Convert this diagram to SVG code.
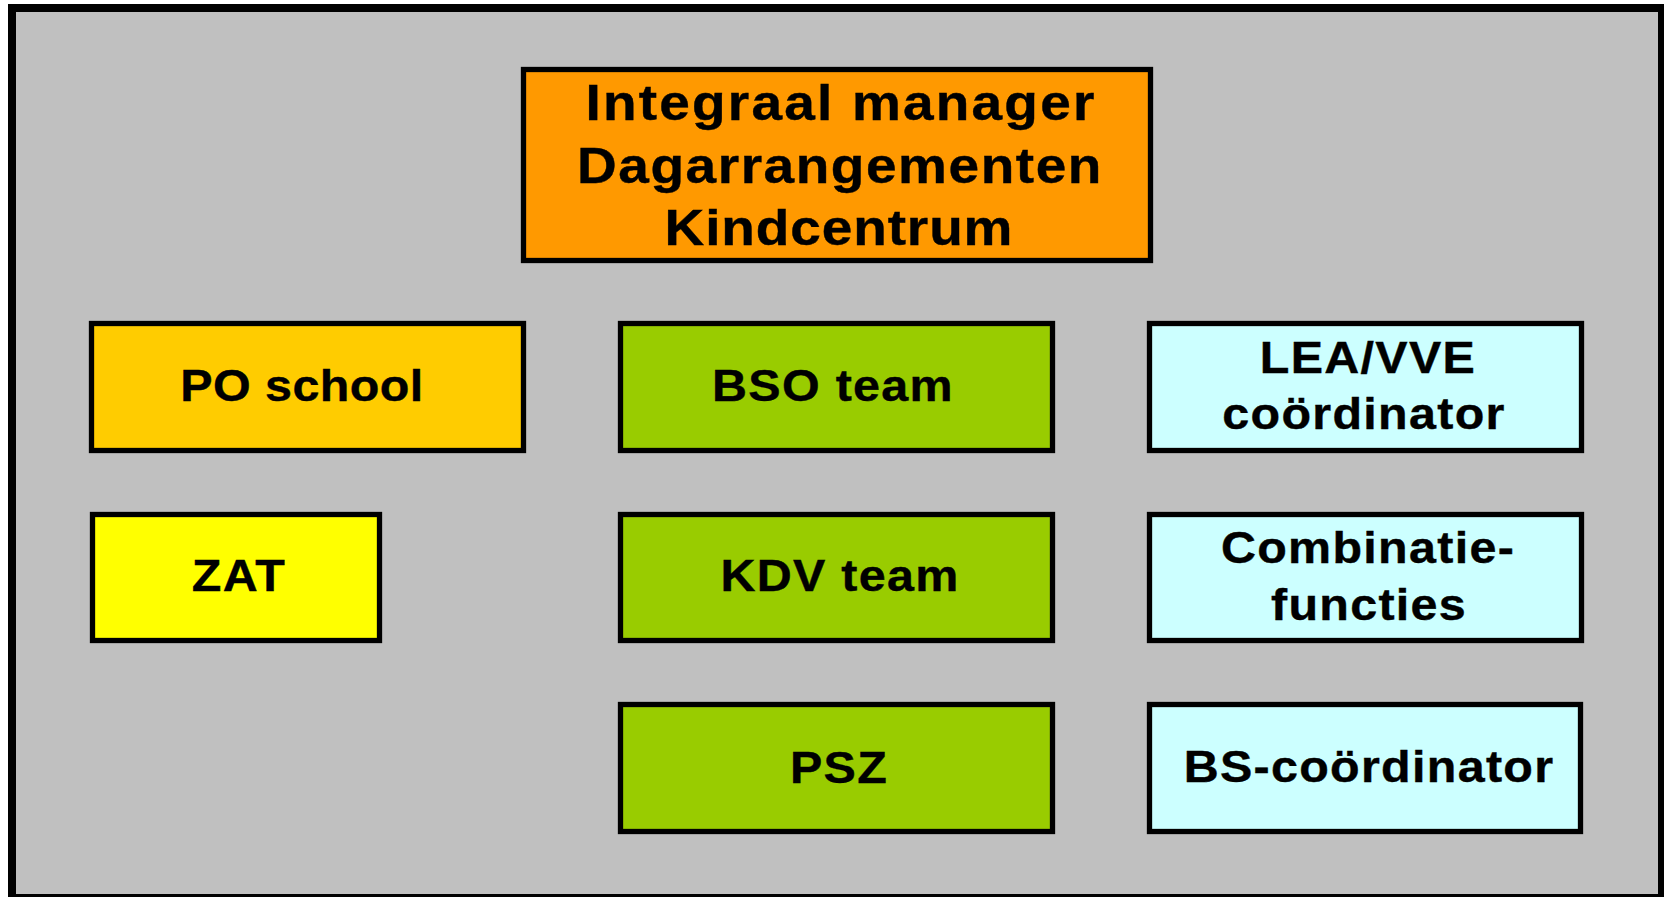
<svg xmlns="http://www.w3.org/2000/svg" width="1664" height="897" viewBox="0 0 1664 897">
<style>
.box{stroke:#000;stroke-width:5.3}
.t{font-family:"Liberation Sans",Arial,sans-serif;font-weight:bold;font-size:44px;letter-spacing:1.2px;text-anchor:middle;fill:#000;stroke:#000;stroke-width:0.4}
.tt{font-size:50px;letter-spacing:1.4px}
.orange{fill:#FF9900}
.gold{fill:#FFCC00}
.yellow{fill:#FFFF00}
.green{fill:#99CC00}
.cyan{fill:#CCFFFF}
</style>
<rect x="12" y="8" width="1650" height="890" fill="#C0C0C0" stroke="#000" stroke-width="8"/>
<g id="connectors"/>
<g id="manager">
<rect class="box orange" x="523.5" y="69.5" width="627" height="191"/>
<text class="t tt" style="letter-spacing:2px" transform="translate(841 120) scale(1.1 1)">Integraal manager</text>
<text class="t tt" transform="translate(840 183) scale(1.1 1)">Dagarrangementen</text>
<text class="t tt" style="letter-spacing:0.8px" transform="translate(839 245) scale(1.1 1)">Kindcentrum</text>
</g>
<g id="po-school">
<rect class="box gold" x="91.5" y="323.5" width="432" height="127"/>
<text class="t" style="letter-spacing:0.4px" transform="translate(302 401) scale(1.1 1)">PO school</text>
</g>
<g id="zat">
<rect class="box yellow" x="92.5" y="514.5" width="287" height="126"/>
<text class="t" transform="translate(239 591) scale(1.1 1)">ZAT</text>
</g>
<g id="bso">
<rect class="box green" x="620.5" y="323.5" width="432" height="127"/>
<text class="t" transform="translate(833 401) scale(1.1 1)">BSO team</text>
</g>
<g id="kdv">
<rect class="box green" x="620.5" y="514.5" width="432" height="126"/>
<text class="t" transform="translate(840 591) scale(1.1 1)">KDV team</text>
</g>
<g id="psz">
<rect class="box green" x="620.5" y="704.5" width="432" height="127"/>
<text class="t" transform="translate(839 783) scale(1.1 1)">PSZ</text>
</g>
<g id="lea-vve">
<rect class="box cyan" x="1149.5" y="323.5" width="432" height="127"/>
<text class="t" transform="translate(1368 373) scale(1.1 1)">LEA/VVE</text>
<text class="t" transform="translate(1364 429) scale(1.1 1)">coördinator</text>
</g>
<g id="combinatie">
<rect class="box cyan" x="1149.5" y="514.5" width="432" height="126"/>
<text class="t" transform="translate(1368 563) scale(1.1 1)">Combinatie-</text>
<text class="t" transform="translate(1369 620) scale(1.1 1)">functies</text>
</g>
<g id="bs-coordinator">
<rect class="box cyan" x="1149.5" y="704.5" width="431" height="127"/>
<text class="t" transform="translate(1369 782) scale(1.1 1)">BS-coördinator</text>
</g>
</svg>
